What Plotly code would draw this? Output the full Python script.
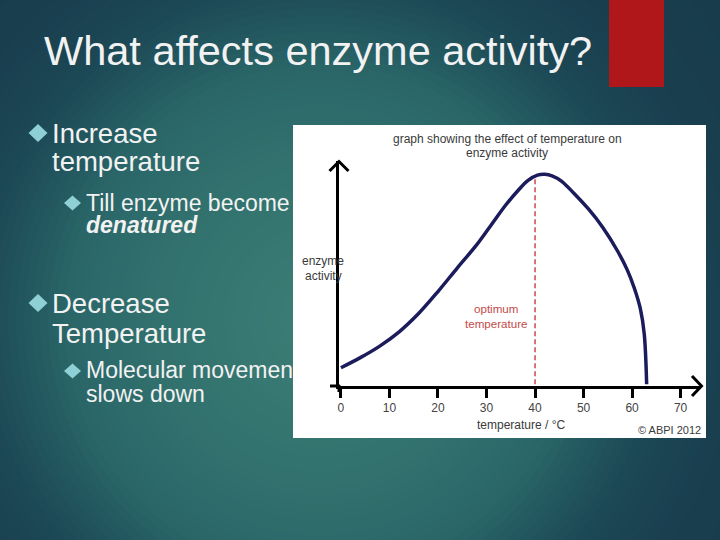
import plotly.graph_objects as go

W, H = 720, 540


def X(px):
    return px / W


def Y(py):
    return 1 - py / H


# ---------------- data ----------------
temperature_c = [0, 4, 8, 12, 16, 20, 24, 28, 31, 34, 36.5, 38.5, 40.5, 42, 43.5, 45.5, 48, 51, 54, 57, 59, 60.5, 61.7, 62.5, 63]
activity = [7.9, 12.7, 18.2, 25, 33.7, 44.2, 55.5, 66.5, 76, 85.5, 92.3, 97, 99.6, 100, 99.3, 96.7, 91, 83.5, 74.6, 63.5, 54.5, 45.5, 36, 24, 0]
optimum_temp = [40, 40]
optimum_activity = [0, 98]
tick_vals = [0, 10, 20, 30, 40, 50, 60, 70]
tick_text = ["0", "10", "20", "30", "40", "50", "60", "70"]

slide_title = "What affects enzyme activity?"
main_lines = [("Increase", 133.5), ("temperature", 161.5), ("Decrease", 303.5), ("Temperature", 333.5)]
sub_lines = [("Till enzyme become", 203), ("<b><i>denatured</i></b>", 225), ("Molecular movemen", 370), ("slows down", 394)]
main_bullets = [(38, 133), (38, 303)]
sub_bullets = [(72.5, 203), (72.5, 371)]
chart_title = ["graph showing the effect of temperature on", "enzyme activity"]
y_label = ["enzyme", "activity"]
optimum_label = ["optimum", "temperature"]
x_label = "temperature / °C"
credit = "© ABPI 2012"

FONT = "Liberation Sans, Arial, sans-serif"

fig = go.Figure()
fig.add_trace(go.Scatter(
    x=temperature_c, y=activity, mode="lines",
    line=dict(color="#1c1c5c", width=3.5, shape="spline", smoothing=1.0),
    hoverinfo="skip", showlegend=False))
fig.add_trace(go.Scatter(
    x=optimum_temp, y=optimum_activity, mode="lines",
    line=dict(color="#cc4848", width=1.5, dash="5px,3px"),
    hoverinfo="skip", showlegend=False))

# ---------------- background gradient ----------------
stops = [(0, (0x3c, 0x7e, 0x76)), (150, (0x33, 0x73, 0x6f)), (250, (0x2b, 0x67, 0x69)),
         (300, (0x22, 0x57, 0x5f)), (350, (0x1c, 0x47, 0x55)), (430, (0x19, 0x3e, 0x4e)),
         (600, (0x17, 0x3a, 0x4a))]


def col_at(d):
    for (d0, c0), (d1, c1) in zip(stops[:-1], stops[1:]):
        if d0 <= d <= d1:
            t = (d - d0) / (d1 - d0)
            c = [round(a + (b - a) * t) for a, b in zip(c0, c1)]
            return "rgb(%d,%d,%d)" % tuple(c)
    return "rgb(%d,%d,%d)" % stops[-1][1]


shapes = []
cx, cy = 320, 320
for r in range(520, 0, -8):
    shapes.append(dict(type="circle", xref="paper", yref="paper",
                       x0=X(cx - r), x1=X(cx + r), y0=Y(cy + r), y1=Y(cy - r),
                       fillcolor=col_at(r), line=dict(width=0), layer="below"))

# red bar
shapes.append(dict(type="rect", xref="paper", yref="paper", x0=X(609), x1=X(664), y0=Y(87), y1=Y(0),
                   fillcolor="#b0171a", line=dict(width=0), layer="below"))
# white chart box
shapes.append(dict(type="rect", xref="paper", yref="paper", x0=X(293), x1=X(706), y0=Y(438), y1=Y(125),
                   fillcolor="white", line=dict(width=0), layer="below"))


def diamond(x, y, hw, hh, color):
    path = "M %f,%f L %f,%f L %f,%f L %f,%f Z" % (
        X(x - hw), Y(y), X(x), Y(y - hh), X(x + hw), Y(y), X(x), Y(y + hh))
    return dict(type="path", xref="paper", yref="paper", path=path,
                fillcolor=color, line=dict(width=0), layer="above")


for bx, by in main_bullets:
    shapes.append(diamond(bx, by, 9.5, 9, "#8fd0d6"))
for bx, by in sub_bullets:
    shapes.append(diamond(bx, by, 8.5, 7.5, "#8fd0d6"))


def pline(pts):
    p = "M " + " L ".join("%f,%f" % (X(a), Y(b)) for a, b in pts)
    return dict(type="path", xref="paper", yref="paper", path=p,
                line=dict(color="black", width=3), layer="above")


# arrow heads and axis overhangs
shapes.append(pline([(329.5, 171), (339, 161.5), (348.5, 171)]))
shapes.append(pline([(692, 376), (701.5, 386), (692, 396)]))
shapes.append(pline([(330, 386), (340, 386)]))
shapes.append(pline([(339, 385), (339, 392)]))

# ---------------- annotations ----------------
ann = []


def txt(t, x, y, size, color, xanchor="left"):
    ann.append(dict(text=t, x=X(x), y=Y(y), xref="paper", yref="paper", showarrow=False,
                    xanchor=xanchor, yanchor="middle", font=dict(family=FONT, size=size, color=color)))


txt(slide_title, 318, 50.5, 41.5, "#f2f2f2", "center")
for t, y in main_lines:
    txt(t, 50, y, 27.5, "#f2f2f2")
for t, y in sub_lines:
    txt(t, 84, y, 23, "#f2f2f2")

txt(chart_title[0], 507, 139.2, 12, "#3a3a3a", "center")
txt(chart_title[1], 507, 153.5, 12, "#3a3a3a", "center")
txt(y_label[0], 323, 261, 12, "#3a3a3a", "center")
txt(y_label[1], 323, 276, 12, "#3a3a3a", "center")
txt(optimum_label[0], 496, 308.3, 11.6, "#c44a4a", "center")
txt(optimum_label[1], 496, 323.7, 11.6, "#c44a4a", "center")
txt(x_label, 521.5, 424.9, 12, "#3a3a3a", "center")
txt(credit, 703, 429.5, 11, "#3a3a3a", "right")

fig.update_layout(
    width=W, height=H, margin=dict(l=0, r=0, t=0, b=0),
    paper_bgcolor="#173a4a", plot_bgcolor="rgba(0,0,0,0)",
    shapes=shapes, annotations=ann, showlegend=False,
    xaxis=dict(domain=[X(339), X(701)], range=[-0.4, 74.2], showgrid=False, zeroline=False,
               showline=True, linecolor="black", linewidth=3,
               ticks="outside", ticklen=9, tickwidth=3, tickcolor="black",
               tickvals=tick_vals, ticktext=tick_text,
               tickfont=dict(family=FONT, size=12, color="#444444"), fixedrange=True),
    yaxis=dict(domain=[Y(386), Y(160.7)], range=[-0.8, 106.5], showgrid=False, zeroline=False,
               showline=True, linecolor="black", linewidth=3, ticks="", showticklabels=False,
               fixedrange=True),
)

fig.write_html("out.html", config={"displayModeBar": False},
               post_script="document.body.style.margin='0';document.body.style.overflow='hidden';")
